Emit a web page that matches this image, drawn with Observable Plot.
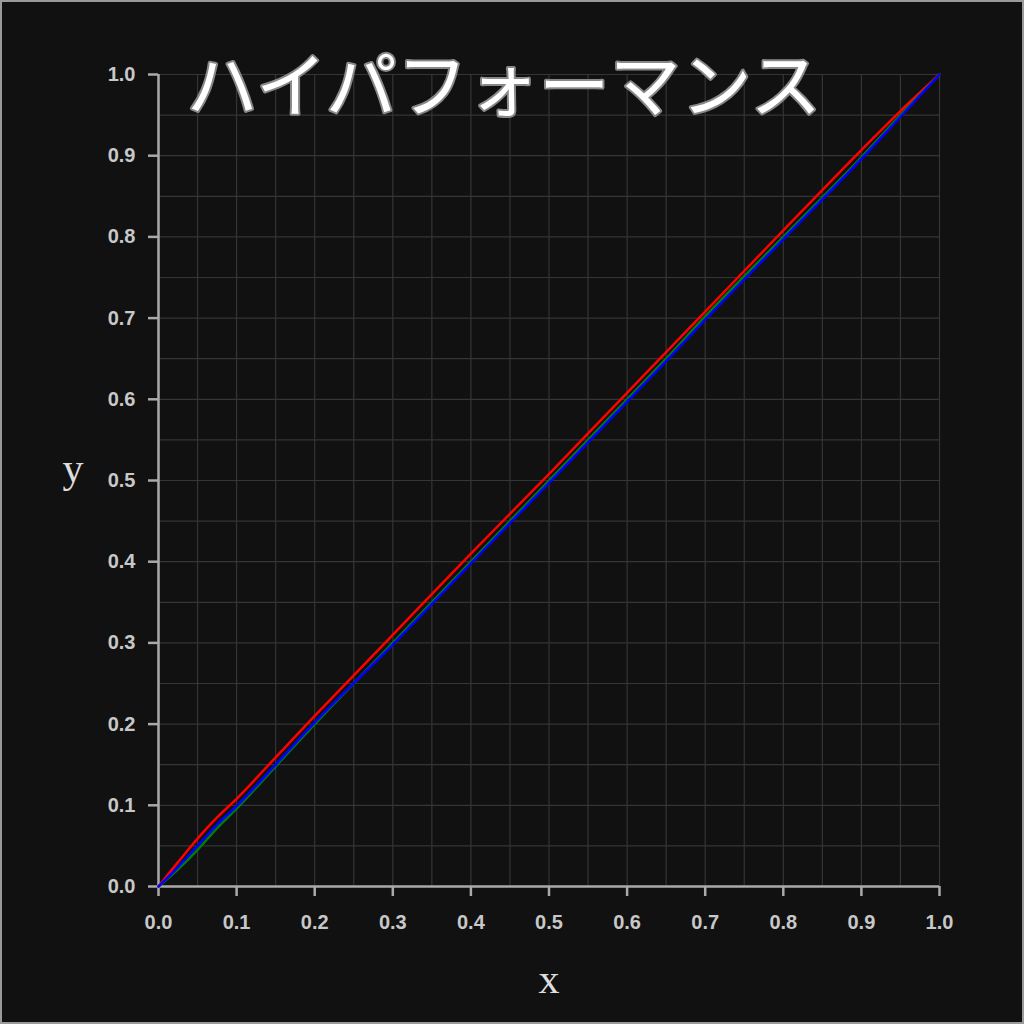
<!DOCTYPE html>
<html><head><meta charset="utf-8">
<script src="https://cdn.jsdelivr.net/npm/d3@7"></script>
<script src="https://cdn.jsdelivr.net/npm/@observablehq/plot@0.6"></script>
<style>
html,body{margin:0;padding:0;background:#111;}
#chart svg{display:block;outline:2px solid #9a9a9a;outline-offset:-2px;}
</style>
</head><body><div id="chart"></div>
<script>
const xs = [0, 0.025, 0.05, 0.075, 0.1, 0.15, 0.2, 0.3, 0.4, 0.5, 0.6, 0.65, 0.7, 0.8, 0.9, 0.95, 1.0];
const redY   = [0, 0.030, 0.059, 0.085, 0.108, 0.159, 0.210, 0.310, 0.410, 0.508, 0.608, 0.658, 0.708, 0.808, 0.907, 0.955, 1.0];
const greenY = [0, 0.021, 0.045, 0.072, 0.096, 0.148, 0.200, 0.300, 0.400, 0.500, 0.600, 0.650, 0.702, 0.800, 0.898, 0.950, 1.0];
const blueY  = [0, 0.024, 0.050, 0.076, 0.099, 0.150, 0.202, 0.298, 0.398, 0.497, 0.597, 0.647, 0.698, 0.797, 0.896, 0.948, 1.0];
const seriesNames = ["red", "green", "blue"];
const seriesColors = ["#a81a1a", "#22a022", "#2233cc"];
const tickValues = [0, 0.1, 0.2, 0.3, 0.4, 0.5, 0.6, 0.7, 0.8, 0.9, 1.0];
const gridValues = d3.range(0, 21).map(i => i / 20);
const titleText = "ハイパフォーマンス";

const ys = [redY, greenY, blueY];
const rows = seriesNames.flatMap((s, k) => xs.map((x, i) => ({series: s, x, y: ys[k][i]})));

const chart = Plot.plot({
  width: 1024, height: 1024,
  marginLeft: 158, marginRight: 85, marginTop: 74, marginBottom: 138,
  style: {background: "#111", color: "#ccc"},
  x: {domain: [0, 1]},
  y: {domain: [0, 1]},
  color: {domain: seriesNames, range: seriesColors},
  marks: [
    Plot.gridX(gridValues, {stroke: "#353535", strokeOpacity: 1, strokeWidth: 1.2}),
    Plot.gridY(gridValues, {stroke: "#353535", strokeOpacity: 1, strokeWidth: 1.2}),
    Plot.axisX(tickValues, {tickFormat: d3.format(".1f"), tickSize: 10, tickPadding: 18, stroke: "#aaa", fill: "#c8c8c8", strokeWidth: 2.5, fontSize: 20, fontWeight: "bold", fontFamily: "Liberation Sans, Arial, sans-serif", label: null}),
    Plot.axisY(tickValues, {tickFormat: d3.format(".1f"), tickSize: 10, tickPadding: 13, stroke: "#aaa", fill: "#c8c8c8", strokeWidth: 2.5, fontSize: 20, fontWeight: "bold", fontFamily: "Liberation Sans, Arial, sans-serif", label: null}),
    Plot.ruleX([0], {stroke: "#aaa", strokeWidth: 2.5}),
    Plot.ruleY([0], {stroke: "#aaa", strokeWidth: 2.5}),
    Plot.line(rows, {x: "x", y: "y", z: "series", stroke: "series", strokeWidth: 2.5, curve: "monotone-x"}),
    Plot.text(["x"], {frameAnchor: "bottom", dy: 106, text: d => d, fontSize: 42, fill: "#ddd", fontFamily: "Liberation Serif, serif"}),
    Plot.text(["y"], {frameAnchor: "left", dx: -96, dy: -12, text: d => d, fontSize: 42, fill: "#ddd", fontFamily: "Liberation Serif, serif"}),
    Plot.text([titleText], {frameAnchor: "top-left", dx: 28, dy: 14, text: d => d, textAnchor: "start", lineAnchor: "middle", fontSize: 71, fill: "#fff", stroke: "#888", strokeWidth: 4, paintOrder: "stroke", fontWeight: 400, fontFamily: "Noto Sans CJK JP, sans-serif"})
  ]
});
document.getElementById("chart").appendChild(chart);
</script>
</body></html>
